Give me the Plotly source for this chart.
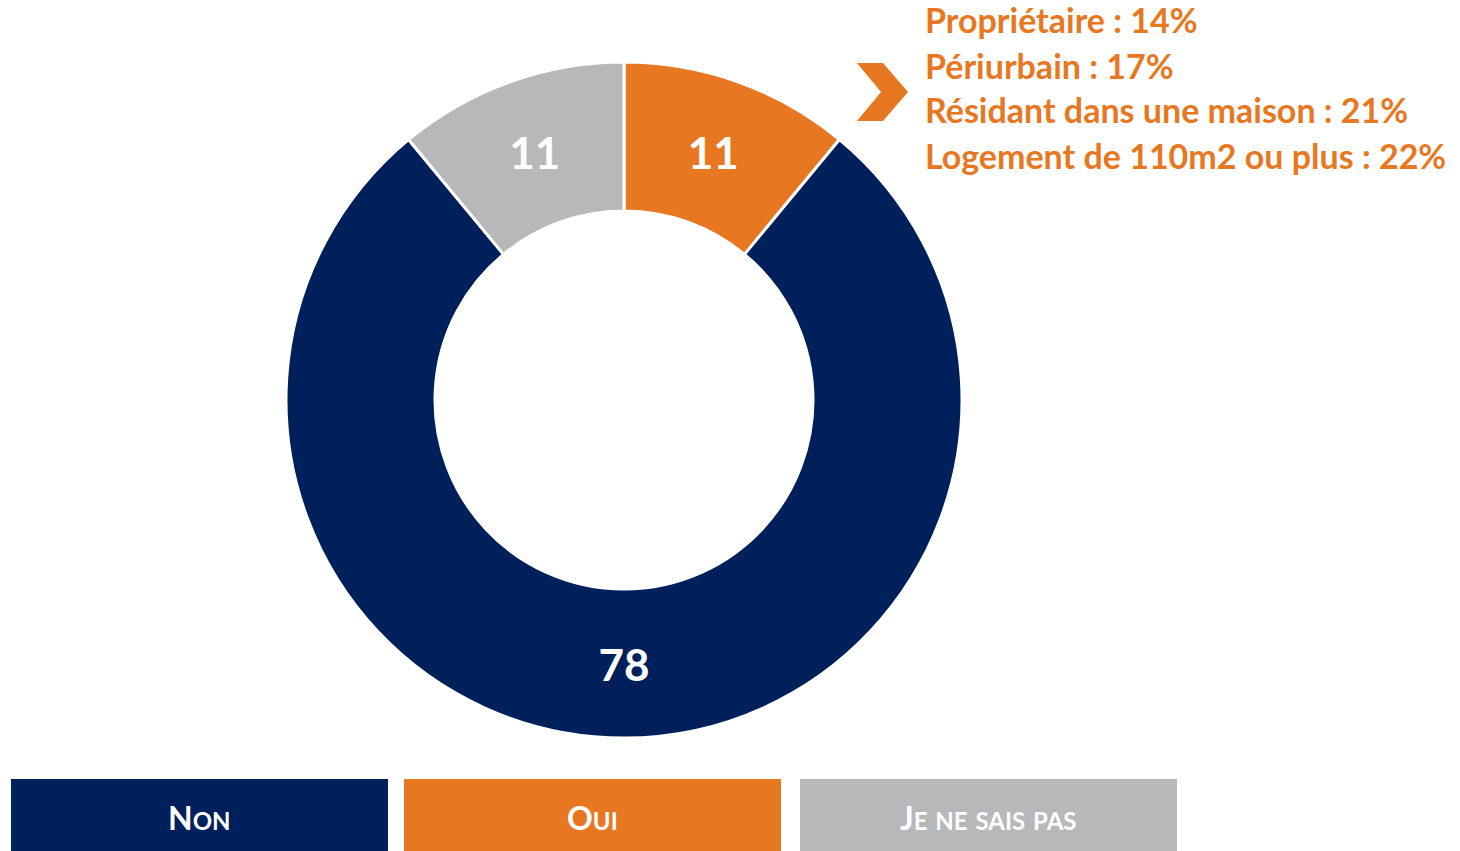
import plotly.graph_objects as go

W, H = 1460, 851

labels = ["Oui", "Non", "Je ne sais pas"]
values = [11, 78, 11]
colors = ["#E87722", "#00205B", "#B7B8BA"]

legend_order = ["Non", "Oui", "Je ne sais pas"]

detail_lines = [
    "Propriétaire : 14%",
    "Périurbain : 17%",
    "Résidant dans une maison : 21%",
    "Logement de 110m2 ou plus : 22%",
]

FONT = "Lato"


def px_x(x):
    return x / W


def px_y(y):
    return 1 - y / H


cx, cy, R = 624, 400, 338

fig = go.Figure(
    go.Pie(
        labels=labels,
        values=values,
        hole=189 / 338,
        sort=False,
        direction="clockwise",
        rotation=0,
        marker=dict(colors=colors, line=dict(color="white", width=3)),
        textinfo="value",
        textposition="inside",
        insidetextorientation="horizontal",
        textfont=dict(family=FONT, size=44, color="white", weight="bold"),
        domain=dict(x=[px_x(cx - R), px_x(cx + R)], y=[px_y(cy + R), px_y(cy - R)]),
        showlegend=False,
        hoverinfo="label+value",
    )
)

shapes = []
annotations = []

# Legend boxes
box_x = [(11, 388), (404, 781), (800, 1177)]
color_of = dict(zip(labels, colors))


def small_caps(s, big=32, small=24):
    out = []
    for word in s.split(" "):
        first, rest = word[0], word[1:]
        if first.isupper():
            piece = f"<span style='font-size:{big}px'>{first}</span>"
        else:
            piece = f"<span style='font-size:{small}px'>{first.upper()}</span>"
        if rest:
            piece += f"<span style='font-size:{small}px'>{rest.upper()}</span>"
        out.append(piece)
    return " ".join(out)


for (x0, x1), lab in zip(box_x, legend_order):
    shapes.append(
        dict(
            type="rect",
            xref="paper",
            yref="paper",
            x0=px_x(x0),
            x1=px_x(x1),
            y0=px_y(851),
            y1=px_y(779),
            fillcolor=color_of[lab],
            line=dict(width=0),
            layer="below",
        )
    )
    annotations.append(
        dict(
            x=px_x((x0 + x1) / 2),
            y=px_y(817),
            xref="paper",
            yref="paper",
            xanchor="center",
            yanchor="middle",
            text=small_caps(lab),
            showarrow=False,
            font=dict(family=FONT, size=32, color="white", weight="bold"),
        )
    )

# Chevron
pts = [(857, 63), (883, 63), (908, 92), (883, 121), (857, 121), (881, 92)]
path = "M " + " L ".join(f"{px_x(x)},{px_y(y)}" for x, y in pts) + " Z"
shapes.append(
    dict(
        type="path",
        xref="paper",
        yref="paper",
        path=path,
        fillcolor="#E87722",
        line=dict(width=0),
    )
)

# Detail lines
line_centers = [20, 65, 110, 155]
for txt, yc in zip(detail_lines, line_centers):
    annotations.append(
        dict(
            x=px_x(923),
            y=px_y(yc),
            xref="paper",
            yref="paper",
            xanchor="left",
            yanchor="middle",
            text=txt,
            showarrow=False,
            font=dict(family=FONT, size=34, color="#E87722", weight="bold"),
        )
    )

fig.update_layout(
    width=W,
    height=H,
    margin=dict(l=0, r=0, t=0, b=0),
    paper_bgcolor="white",
    plot_bgcolor="white",
    shapes=shapes,
    annotations=annotations,
)

fig.write_html(
    "out.html",
    config={"displayModeBar": False},
    post_script="document.body.style.margin='0';document.body.style.overflow='hidden';",
)
